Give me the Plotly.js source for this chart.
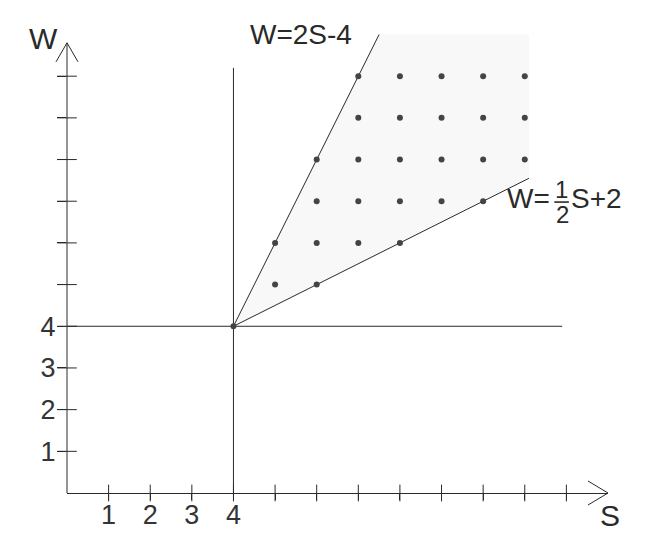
<!DOCTYPE html>
<html>
<head>
<meta charset="utf-8">
<script src="https://cdn.plot.ly/plotly-3.0.1.min.js"></script>
<style>html,body{margin:0;padding:0;background:#fff;}#chart{width:659px;height:553px;}</style>
</head>
<body>
<div id="chart"></div>
<script>
// ---- data ----
const sTicks = [1,2,3,4,5,6,7,8,9,10,11,12];
const sTickText = ['1','2','3','4','','','','','','','',''];
const wTicks = [1,2,3,4,5,6,7,8,9,10];
const wTickText = ['1','2','3','4','','','','','',''];

// integer points of the feasible region
const dotS = [4, 5,6, 5,6,7,8, 6,7,8,9,10, 6,7,8,9,10,11, 7,8,9,10,11, 7,8,9,10,11];
const dotW = [4, 5,5, 6,6,6,6, 7,7,7,7,7, 8,8,8,8,8,8, 9,9,9,9,9, 10,10,10,10,10];

// constraint lines
const upperS = [4, 7.5];   // W = 2S - 4
const upperW = [4, 11];
const lowerS = [4, 11.1];  // W = S/2 + 2
const lowerW = [4, 7.55];
const vLineS = [4, 4];     // S = 4
const vLineW = [0, 10.2];
const hLineS = [0, 11.9];  // W = 4
const hLineW = [4, 4];

// shaded region
const regionS = [4, 7.5, 11.1, 11.1, 4];
const regionW = [4, 11, 11, 7.55, 4];

const S_MAX = 13, W_MAX = 11.3, W_TIP = 10.8;

const ink = '#2a2a2a';
const FONT = 'Liberation Sans, Arial, sans-serif';

const traces = [
  {x: regionS, y: regionW, mode: 'lines', fill: 'toself', fillcolor: '#f8f8f8',
   line: {width: 0}, hoverinfo: 'skip', showlegend: false},
  {x: vLineS, y: vLineW, mode: 'lines', line: {color: ink, width: 1}, showlegend: false},
  {x: hLineS, y: hLineW, mode: 'lines', line: {color: ink, width: 1}, showlegend: false},
  {x: upperS, y: upperW, mode: 'lines', line: {color: ink, width: 1}, showlegend: false},
  {x: lowerS, y: lowerW, mode: 'lines', line: {color: ink, width: 1}, showlegend: false},
  {x: dotS, y: dotW, mode: 'markers', marker: {color: '#444', size: 6}, showlegend: false},
  // tick crosses on the axes
  {x: sTicks, y: sTicks.map(() => 0), mode: 'markers', cliponaxis: false, hoverinfo: 'skip',
   marker: {symbol: 'line-ns-open', size: 12, color: ink, line: {color: ink, width: 1}}, showlegend: false},
  {x: wTicks.map(() => 0), y: wTicks, mode: 'markers', cliponaxis: false, hoverinfo: 'skip',
   marker: {symbol: 'line-ew-open', size: 14, color: ink, line: {color: ink, width: 1}}, showlegend: false}
];

const tickFont = {family: FONT, size: 27, color: '#343434'};

const layout = {
  width: 659, height: 553,
  margin: {l: 67, r: 51, t: 22, b: 60},
  paper_bgcolor: '#fff', plot_bgcolor: '#fff',
  showlegend: false,
  xaxis: {range: [0, S_MAX], showline: true, linecolor: ink, linewidth: 1,
          ticks: 'outside', ticklen: 6, tickcolor: ink, tickwidth: 1,
          tickmode: 'array', tickvals: sTicks, ticktext: sTickText, ticklabelstandoff: -8,
          showgrid: false, zeroline: false, tickfont: tickFont, fixedrange: true},
  yaxis: {range: [0, W_MAX], showline: false,
          ticks: 'outside', ticklen: 9, tickcolor: ink, tickwidth: 1,
          tickmode: 'array', tickvals: wTicks, ticktext: wTickText, ticklabelstandoff: -4,
          showgrid: false, zeroline: false, tickfont: tickFont, fixedrange: true},
  shapes: [
    // W axis line
    {type: 'line', xref: 'paper', yref: 'paper', x0: 0, x1: 0, y0: 0, y1: W_TIP / W_MAX,
     line: {color: ink, width: 1}},
    // W axis arrowhead
    {type: 'path', xref: 'paper', yref: 'paper', xsizemode: 'pixel', ysizemode: 'pixel',
     xanchor: 0, yanchor: W_TIP / W_MAX, path: 'M-11,-19 L0,0 L11,-19',
     line: {color: ink, width: 1}},
    // S axis arrowhead
    {type: 'path', xref: 'paper', yref: 'paper', xsizemode: 'pixel', ysizemode: 'pixel',
     xanchor: 1, yanchor: 0, path: 'M-20,-12 L0,0 L-20,12',
     line: {color: ink, width: 1}},
    // fraction bar
    {type: 'line', xref: 'x', yref: 'y', x0: 11.71, x1: 12.06, y0: 6.98, y1: 6.98,
     line: {color: ink, width: 1.6}}
  ],
  annotations: [
    {text: 'W', xref: 'paper', yref: 'paper', x: -0.044, y: 0.964, xanchor: 'center', yanchor: 'middle',
     showarrow: false, font: {family: FONT, size: 30, color: ink}},
    {text: 'S', xref: 'paper', yref: 'paper', x: 1.004, y: -0.047, xanchor: 'center', yanchor: 'middle',
     showarrow: false, font: {family: FONT, size: 30, color: ink}},
    {text: 'W=2S-4', xref: 'x', yref: 'y', x: 5.62, y: 10.99, showarrow: false,
     font: {family: FONT, size: 28, color: ink}},
    {text: 'W=', xref: 'x', yref: 'y', x: 11.66, y: 7.07, xanchor: 'right', showarrow: false,
     font: {family: FONT, size: 28, color: ink}},
    {text: '1', xref: 'x', yref: 'y', x: 11.89, y: 7.27, showarrow: false,
     font: {family: FONT, size: 24, color: ink}},
    {text: '2', xref: 'x', yref: 'y', x: 11.9, y: 6.67, showarrow: false,
     font: {family: FONT, size: 24, color: ink}},
    {text: 'S+2', xref: 'x', yref: 'y', x: 12.06, y: 7.07, xanchor: 'left', showarrow: false,
     font: {family: FONT, size: 28, color: ink}}
  ]
};

Plotly.newPlot('chart', traces, layout, {staticPlot: true, displayModeBar: false});
</script>
</body>
</html>
